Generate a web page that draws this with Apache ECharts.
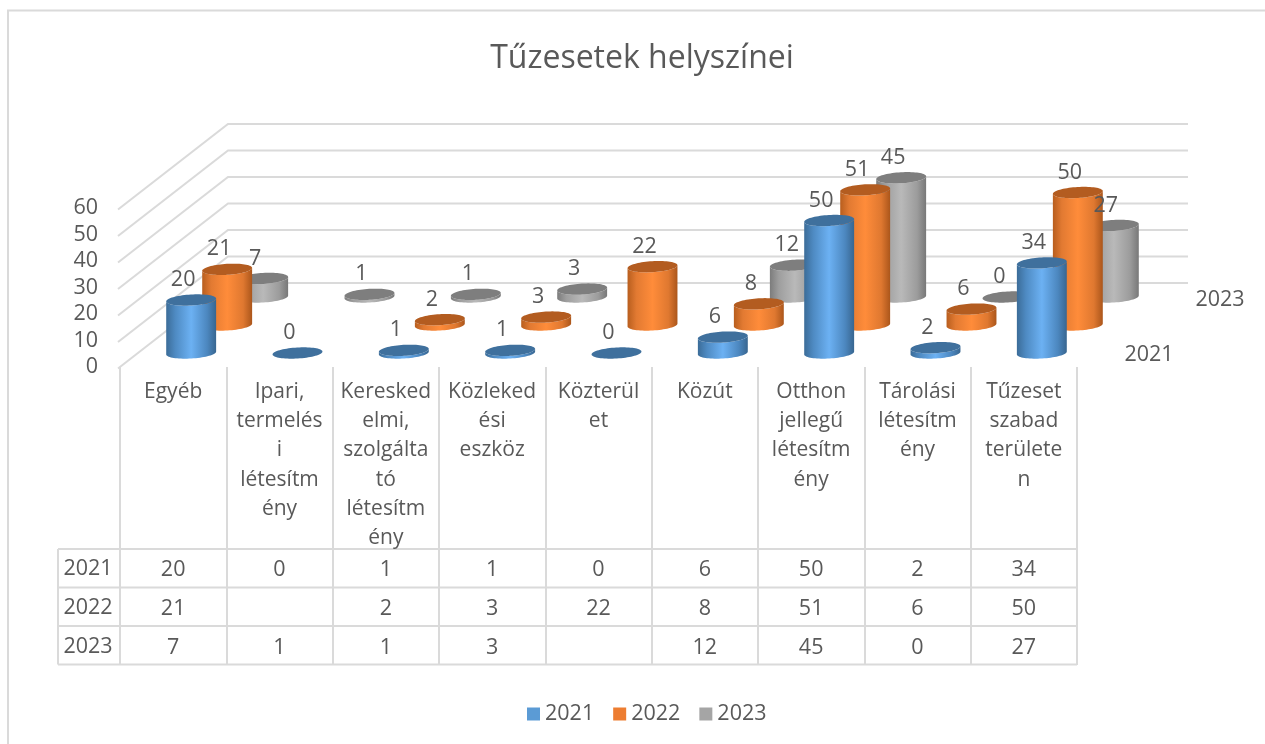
<!DOCTYPE html>
<html><head><meta charset="utf-8">
<style>html,body{margin:0;padding:0;background:#fff}#c{width:1265px;height:744px}</style>
<script src="https://cdn.jsdelivr.net/npm/echarts@6/dist/echarts.min.js"></script>
</head><body><div id="c"></div>
<script>
const categories = ['Egyéb','Ipari,\ntermelés\ni\nlétesítm\nény','Keresked\nelmi,\nszolgálta\ntó\nlétesítm\nény','Közleked\nési\neszköz','Közterül\net','Közút','Otthon\njellegű\nlétesítm\nény','Tárolási\nlétesítm\nény','Tűzeset\nszabad\nterülete\nn'];
const years = ['2021','2022','2023'];
const values2021 = [20,0,1,1,0,6,50,2,34];
const values2022 = [21,null,2,3,22,8,51,6,50];
const values2023 = [7,1,1,3,null,12,45,0,27];
const yTicks = [0,10,20,30,40,50,60];
const allValues = [values2021,values2022,values2023];

const FONT = '"Open Sans", sans-serif', TXT = '#595959', LINE = '#DADADA', LW = 2;
const STEP_X = 36, STEP_Y = -28, TILT = 0.06, RX = 25, RY = 5.5, FS = 21.5, FS_CAT = 21;
const looks = [
 {legend:'#5B9BD5', top:'#3F709D', side:[[0,'#3B6C98'],[.18,'#4E8AC2'],[.5,'#6CB1F3'],[.82,'#4C87BF'],[1,'#386690']]},
 {legend:'#ED7D31', top:'#B35C20', side:[[0,'#B85E1E'],[.18,'#E27A32'],[.5,'#FF8C3A'],[.82,'#DF7830'],[1,'#AB561B']]},
 {legend:'#A5A5A5', top:'#7E7E7E', side:[[0,'#7C7C7C'],[.18,'#9E9E9E'],[.5,'#B9B9B9'],[.82,'#9C9C9C'],[1,'#787878']]}
];
// depth shift of a row: half a row in from the front plane, then one step per series
const depth = r => [STEP_X*(r+.5), STEP_Y*(r+.5)];
function grad(stops){return new echarts.graphic.LinearGradient(0,0,1,0,stops.map(s=>({offset:s[0],color:s[1]})));}
function ell(cx,cy,t){const c=Math.cos(TILT),s=Math.sin(TILT),x=RX*Math.cos(t),y=RY*Math.sin(t);return [cx+x*c+y*s,cy-x*s+y*c];}

function cylinder(r){return {
  type:'custom', name:years[r], coordinateSystem:'cartesian2d', z:5-r, silent:true,
  itemStyle:{color:looks[r].legend},
  encode:{x:0,y:1},
  data:allValues[r].map((v,i)=>[i,v]),
  renderItem(p,api){
    const v=api.value(1); if(isNaN(v)) return;
    const d=depth(r), b=api.coord([api.value(0),0]), t=api.coord([api.value(0),v]);
    const cx=b[0]+d[0], by=b[1]+d[1], ty=t[1]+d[1];
    const pts=[];
    for(let a=0;a<=36;a++) pts.push(ell(cx,by,Math.PI*a/36));
    for(let a=36;a>=0;a--) pts.push(ell(cx,ty,Math.PI*a/36));
    const kids=[];
    if(v>0) kids.push({type:'polygon',shape:{points:pts},style:{fill:grad(looks[r].side)}});
    const top=[]; for(let a=0;a<72;a++) top.push(ell(cx,ty,Math.PI*a/36));
    kids.push({type:'polygon',shape:{points:top},style:{fill:looks[r].top}});
    return {type:'group',children:kids};
  }
};}
function labels(r){return {
  type:'custom', name:'címke '+years[r], coordinateSystem:'cartesian2d', z:20, silent:true,
  data:allValues[r].map((v,i)=>[i,v]),
  renderItem(p,api){
    const v=api.value(1); if(isNaN(v)) return;
    const d=depth(r), t=api.coord([api.value(0),v]);
    return {type:'text',style:{x:t[0]+d[0]-8,y:t[1]+d[1]-20,text:String(v),fill:TXT,font:FS+'px '+FONT,align:'center',verticalAlign:'middle'}};
  }
};}
const walls = {
  type:'custom', name:'falak', coordinateSystem:'cartesian2d', z:1, silent:true,
  data:yTicks.map(v=>[v]), encode:{y:0},
  renderItem(p,api){
    const a=api.coord([0,api.value(0)]), x0=p.coordSys.x, x1=p.coordSys.x+p.coordSys.width;
    const bx=x0+3*STEP_X, by=a[1]+3*STEP_Y;
    return {type:'polyline',shape:{points:[[x0-2,a[1]+1.5],[bx,by],[x1+3*STEP_X+3,by]]},style:{stroke:LINE,lineWidth:LW,fill:'none'}};
  }
};
const rowY = [570,609,648];
const tableRows = allValues.flatMap((vals,r)=>vals.map((v,i)=>[i,v,r]));
const tableText = {
  type:'custom', name:'táblázat', coordinateSystem:'cartesian2d', z:6, silent:true,
  data:tableRows,
  renderItem(p,api){
    const v=api.value(1); if(isNaN(v)) return;
    const x=api.coord([api.value(0),0])[0];
    return {type:'text',style:{x:x,y:rowY[api.value(2)],text:String(v),fill:TXT,font:FS+'px '+FONT,align:'center',verticalAlign:'middle'}};
  }
};
const hLine=y=>({type:'line',shape:{x1:58,y1:y,x2:1077,y2:y},style:{stroke:LINE,lineWidth:LW},silent:true});
const graphic=[
  {type:'polyline',shape:{points:[[8,744],[8,10.5],[1265,10.5]]},style:{stroke:LINE,lineWidth:LW,fill:'none'},silent:true},
  hLine(549),hLine(587.5),hLine(626),hLine(664.5),
  {type:'line',shape:{x1:58,y1:549,x2:58,y2:664.5},style:{stroke:LINE,lineWidth:LW},silent:true},
  ...years.map((y,r)=>({type:'text',style:{x:88,y:rowY[r]-1,text:y,fill:TXT,font:FS+'px '+FONT,align:'center',verticalAlign:'middle'},silent:true})),
  {type:'text',style:{x:1149,y:355,text:years[0],fill:TXT,font:FS+'px '+FONT,align:'center',verticalAlign:'middle'},silent:true},
  {type:'text',style:{x:1220,y:300,text:years[2],fill:TXT,font:FS+'px '+FONT,align:'center',verticalAlign:'middle'},silent:true}
];

const chart=echarts.init(document.getElementById('c'),null,{renderer:'canvas'});
chart.setOption({
  animation:false, backgroundColor:'#fff',
  title:{text:'Tűzesetek helyszínei',left:637,top:38,textAlign:'center',textStyle:{fontFamily:FONT,fontSize:32,fontWeight:'normal',color:TXT}},
  legend:{data:years,left:522,top:698,itemWidth:13,itemHeight:13,itemGap:19,icon:'rect',textStyle:{fontFamily:FONT,fontSize:FS,color:TXT}},
  grid:{left:120,top:208,width:957,height:159,containLabel:false},
  xAxis:{type:'category',data:categories,axisLine:{show:false},
    axisTick:{show:true,length:298,lineStyle:{color:LINE,width:LW}},
    axisLabel:{interval:0,margin:10,color:TXT,fontFamily:FONT,fontSize:FS_CAT,lineHeight:29.3,verticalAlign:'top',align:'center'},splitLine:{show:false}},
  yAxis:{type:'value',min:0,max:60,interval:10,axisLine:{show:false},axisTick:{show:false},splitLine:{show:false},
    axisLabel:{margin:22,color:TXT,fontFamily:FONT,fontSize:FS,align:'right'}},
  graphic,
  series:[walls,cylinder(2),cylinder(1),cylinder(0),labels(2),labels(1),labels(0),tableText]
});
</script></body></html>
